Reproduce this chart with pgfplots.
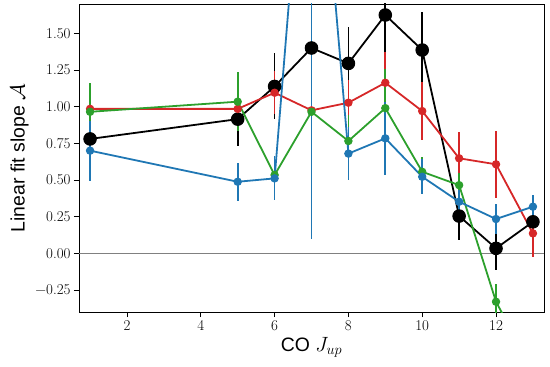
\documentclass[border=0pt]{standalone}
\usepackage{fontspec}
\setsansfont{Liberation Sans}
\usepackage{pgfplots}
\pgfplotsset{compat=1.18}
\usepackage{pgfplotstable}
\definecolor{tabblue}{HTML}{1F77B4}
\definecolor{tabgreen}{HTML}{2CA02C}
\definecolor{tabred}{HTML}{D62728}

\pgfplotstableread{
x y e
1 0.78 0.10
5 0.915 0.18
6 1.138 0.225
7 1.40 0.05
8 1.295 0.25
9 1.625 0.30
10 1.386 0.26
11 0.254 0.16
12 0.034 0.15
13 0.215 0.05
}\blackdata
\pgfplotstableread{
x y e
1 0.985 0.04
5 0.985 0.04
6 1.095 0.145
7 0.975 0.10
8 1.027 0.155
9 1.163 0.21
10 0.97 0.20
11 0.648 0.18
12 0.607 0.23
13 0.136 0.16
}\reddata
\pgfplotstableread{
x y e
1 0.965 0.195
5 1.034 0.20
6 0.534 0.13
7 0.965 0.24
8 0.766 0.176
9 0.99 0.27
10 0.556 0.10
11 0.465 0.08
12 -0.33 0.12
13 -0.80 0.10
}\greendata
\pgfplotstableread{
x y e
1 0.70 0.205
5 0.488 0.13
6 0.511 0.15
7 3.6 3.5
8 0.68 0.18
9 0.784 0.25
10 0.522 0.12
11 0.352 0.08
12 0.234 0.10
13 0.318 0.08
}\bluedata

\begin{document}
\begin{tikzpicture}
\begin{axis}[
  scale only axis,
  width=465bp, height=308bp,
  xmin=0.7, xmax=13.3,
  ymin=-0.40, ymax=1.70,
  xtick={2,4,6,8,10,12},
  xticklabels={2,4,6,8,10,12},
  ytick={-0.25,0,0.25,0.5,0.75,1,1.25,1.5},
  yticklabels={−0.25,0.00,0.25,0.50,0.75,1.00,1.25,1.50},
  xtick pos=bottom, ytick pos=left,
  tick align=outside,
  major tick length=5bp,
  tick style={black, line width=0.8pt},
  axis line style={black, line width=0.9pt},
  tick label style={font=\rmfamily\fontsize{15}{17}\selectfont},
  label style={font=\sffamily\fontsize{19.5}{22}\selectfont},
  xlabel={CO $J_{up}$},
  ylabel={Linear fit slope $\mathcal{A}$},
  error bars/y dir=both, error bars/y explicit,
  error bars/error mark=none,
]
\addplot[gray, line width=0.9pt, forget plot] coordinates {(0.7,0) (13.3,0)};

\addplot[black, line width=1.8pt, mark=*, mark size=6.3pt, mark options={solid, fill=black, line width=1pt},
  error bars/error bar style={black, line width=1.8pt}]
  table[x=x, y=y, y error=e] {\blackdata};
\addplot[tabred, line width=1.8pt, mark=*, mark size=3.7pt, mark options={fill=tabred, draw=tabred, line width=1pt},
  error bars/error bar style={tabred, line width=1.8pt}]
  table[x=x, y=y, y error=e] {\reddata};
\addplot[tabgreen, line width=1.8pt, mark=*, mark size=3.7pt, mark options={fill=tabgreen, draw=tabgreen, line width=1pt},
  error bars/error bar style={tabgreen, line width=1.8pt}]
  table[x=x, y=y, y error=e] {\greendata};
\addplot[tabblue, line width=1.8pt, mark=*, mark size=3.7pt, mark options={fill=tabblue, draw=tabblue, line width=1pt},
  error bars/error bar style={tabblue, line width=1.8pt}]
  table[x=x, y=y, y error=e] {\bluedata};

\coordinate (ll) at (rel axis cs:0,0);
\coordinate (ur) at (rel axis cs:1,1);
\end{axis}
\pgfresetboundingbox
\path[use as bounding box] ([shift={(-79bp,-55bp)}]ll) rectangle ([shift={(6bp,4bp)}]ur);
\end{tikzpicture}
\end{document}
